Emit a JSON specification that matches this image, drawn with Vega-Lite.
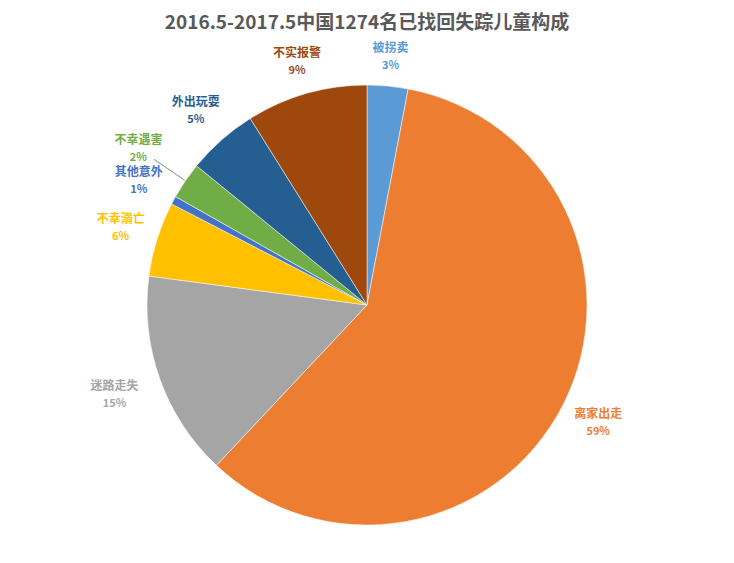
{
  "$schema": "https://vega.github.io/schema/vega-lite/v6.json",
  "width": 734,
  "height": 530,
  "padding": {"top": 40, "left": 0, "right": 0, "bottom": 0},
  "autosize": "none",
  "background": "white",
  "title": {
    "text": "2016.5-2017.5中国1274名已找回失踪儿童构成",
    "font": "Noto Sans CJK SC",
    "fontSize": 19,
    "fontWeight": "bold",
    "color": "#595959",
    "anchor": "middle",
    "offset": 7
  },
  "data": {
    "values": [
      {"idx": 1, "name": "被拐卖", "pct": "3%", "value": 3.0},
      {"idx": 2, "name": "离家出走", "pct": "59%", "value": 59.0},
      {"idx": 3, "name": "迷路走失", "pct": "15%", "value": 15.1},
      {"idx": 4, "name": "不幸溺亡", "pct": "6%", "value": 5.5},
      {"idx": 5, "name": "其他意外", "pct": "1%", "value": 0.6},
      {"idx": 6, "name": "不幸遇害", "pct": "2%", "value": 2.7},
      {"idx": 7, "name": "外出玩耍", "pct": "5%", "value": 5.2},
      {"idx": 8, "name": "不实报警", "pct": "9%", "value": 8.9}
    ]
  },
  "encoding": {
    "color": {
      "field": "name",
      "type": "nominal",
      "scale": {
        "domain": ["被拐卖", "离家出走", "迷路走失", "不幸溺亡", "其他意外", "不幸遇害", "外出玩耍", "不实报警"],
        "range": ["#5B9BD5", "#ED7D31", "#A5A5A5", "#FFC000", "#4472C4", "#70AD47", "#255E91", "#9E480E"]
      },
      "legend": null
    }
  },
  "layer": [
    {
      "mark": {"type": "arc", "outerRadius": 220, "stroke": "white", "strokeWidth": 0.5},
      "encoding": {
        "theta": {"field": "value", "type": "quantitative", "stack": true},
        "order": {"field": "idx", "type": "quantitative"}
      }
    },
    {
      "transform": [
        {"window": [{"op": "sum", "field": "value", "as": "cum"}], "sort": [{"field": "idx"}], "frame": [null, 0]},
        {"calculate": "datum.cum - datum.value / 2", "as": "mid"},
        {"calculate": "datum.mid / 100 * 2 * PI", "as": "ang"},
        {"calculate": "datum.name === '不幸遇害' ? 277 : (datum.name === '迷路走失' ? 268 : 229 + 25 * abs(sin(datum.ang)) + 18 * abs(cos(datum.ang)))", "as": "lr"}
      ],
      "layer": [
        {
          "transform": [{"filter": "datum.name === '不幸遇害'"}],
          "mark": {"type": "arc", "innerRadius": 221, "outerRadius": 258, "stroke": "#A5A5A5", "strokeWidth": 1, "fill": null},
          "encoding": {
            "theta": {"field": "mid", "type": "quantitative", "stack": null},
            "theta2": {"field": "mid"},
            "color": {"value": null}
          }
        },
        {
          "mark": {"type": "text", "dy": -9, "font": "Noto Sans CJK SC", "fontSize": 12, "fontWeight": "bold"},
          "encoding": {
            "theta": {"field": "mid", "type": "quantitative", "stack": null},
            "radius": {"field": "lr", "type": "quantitative", "scale": null},
            "text": {"field": "name", "type": "nominal"}
          }
        },
        {
          "mark": {"type": "text", "dy": 9, "font": "Noto Sans CJK SC", "fontSize": 11, "fontWeight": "bold"},
          "encoding": {
            "theta": {"field": "mid", "type": "quantitative", "stack": null},
            "radius": {"field": "lr", "type": "quantitative", "scale": null},
            "text": {"field": "pct", "type": "nominal"}
          }
        }
      ]
    }
  ]
}
